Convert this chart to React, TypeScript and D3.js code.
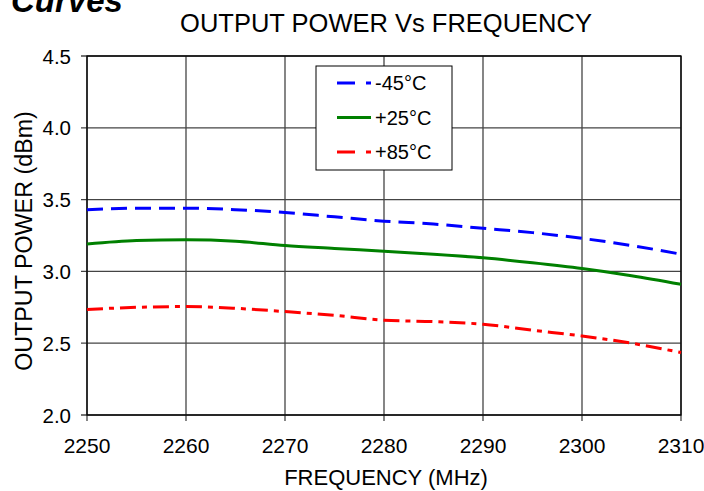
import React from "react";
import * as d3 from "d3";

const freqs = [2250, 2255, 2260, 2265, 2270, 2275, 2280, 2285, 2290, 2295, 2300, 2305, 2310];
const coldValues = [3.43, 3.44, 3.44, 3.43, 3.41, 3.38, 3.35, 3.33, 3.3, 3.27, 3.23, 3.18, 3.12];
const roomValues = [3.19, 3.215, 3.22, 3.21, 3.18, 3.16, 3.14, 3.12, 3.095, 3.06, 3.02, 2.97, 2.91];
const hotValues = [2.735, 2.75, 2.755, 2.743, 2.72, 2.694, 2.66, 2.65, 2.632, 2.59, 2.55, 2.5, 2.435];
const xTicks = [2250, 2260, 2270, 2280, 2290, 2300, 2310];
const yTicks = [2.0, 2.5, 3.0, 3.5, 4.0, 4.5];

const series = [
  { name: "-45°C", values: coldValues, color: "#0000ff", dash: "16,8", legendDash: "18,11,5,20" },
  { name: "+25°C", values: roomValues, color: "#008000", dash: "none", legendDash: "none" },
  { name: "+85°C", values: hotValues, color: "#ff0000", dash: "16,6,5,6", legendDash: "18,11,5,20" },
];

const W = 704;
const H = 491;
const left = 87;
const right = 681;
const top = 56;
const bottom = 415;
const font = "Helvetica, Arial, 'Liberation Sans', sans-serif";

export default function App() {
  const x = d3.scaleLinear().domain([2250, 2310]).range([left, right]);
  const y = d3.scaleLinear().domain([2.0, 4.5]).range([bottom, top]);
  const line = d3
    .line<number>()
    .x((_, i) => x(freqs[i]))
    .y((d) => y(d))
    .curve(d3.curveMonotoneX);

  return (
    <svg width={W} height={H} style={{ position: "absolute", left: 0, top: 0 }} fontFamily={font}>
      <rect width={W} height={H} fill="#fff" />
      <text x={11} y={12} fontSize={33} fontWeight="bold" fontStyle="italic">Curves</text>
      <text x={386} y={32} fontSize={25.5} textAnchor="middle">OUTPUT POWER Vs FREQUENCY</text>

      {/* grid */}
      {xTicks.map((t) => (
        <line key={"gx" + t} x1={x(t)} x2={x(t)} y1={top} y2={bottom + 6} stroke="#444" strokeWidth={1.3} />
      ))}
      {yTicks.map((t) => (
        <line key={"gy" + t} x1={left - 6} x2={right} y1={y(t)} y2={y(t)} stroke="#444" strokeWidth={1.3} />
      ))}
      <rect x={left} y={top} width={right - left} height={bottom - top} fill="none" stroke="#000" strokeWidth={1.3} />

      {/* tick labels */}
      {xTicks.map((t) => (
        <text key={"lx" + t} x={x(t)} y={453} fontSize={21} textAnchor="middle">{t}</text>
      ))}
      {yTicks.map((t) => (
        <text key={"ly" + t} x={71} y={y(t) + 7.5} fontSize={20.5} textAnchor="end">{t.toFixed(1)}</text>
      ))}

      {/* axis titles */}
      <text x={386} y={485} fontSize={22} textAnchor="middle">FREQUENCY (MHz)</text>
      <text transform={`translate(32,241) rotate(-90)`} fontSize={23.3} textAnchor="middle">OUTPUT POWER (dBm)</text>

      {/* series */}
      {series.map((s) => (
        <path key={s.name} d={line(s.values) ?? ""} fill="none" stroke={s.color} strokeWidth={3} strokeDasharray={s.dash} />
      ))}

      {/* legend */}
      <rect x={316} y={66} width={136} height={104} fill="#fff" stroke="#000" strokeWidth={1} />
      {series.map((s, i) => {
        const ly = 83 + i * 34.5;
        return (
          <g key={"leg" + s.name}>
            <line x1={337} x2={371} y1={ly} y2={ly} stroke={s.color} strokeWidth={3} strokeDasharray={s.legendDash} />
            <text x={375} y={ly + 7} fontSize={20}>{s.name}</text>
          </g>
        );
      })}
    </svg>
  );
}
